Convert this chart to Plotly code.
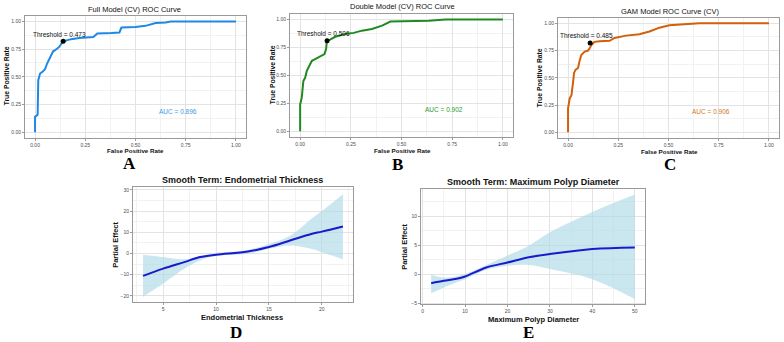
import plotly.graph_objects as go

W, H = 784, 342

# ---------------- data ----------------
roc_a_fpr = [0.0, 0.0, 0.008, 0.013, 0.016, 0.02, 0.025, 0.04, 0.05, 0.06, 0.07, 0.08, 0.09, 0.10, 0.12, 0.14,
             0.16, 0.18, 0.22, 0.25, 0.29, 0.31, 0.35, 0.38, 0.42, 0.43, 0.50, 0.55, 0.60, 0.65, 0.675, 1.0]
roc_a_tpr = [0.0, 0.14, 0.15, 0.16, 0.47, 0.50, 0.53, 0.55, 0.57, 0.62, 0.66, 0.69, 0.73, 0.74, 0.77, 0.82,
             0.83, 0.84, 0.85, 0.854, 0.86, 0.89, 0.89, 0.895, 0.90, 0.945, 0.95, 0.96, 0.985, 0.99, 1.0, 1.0]

roc_b_fpr = [0.0, 0.0, 0.008, 0.016, 0.025, 0.033, 0.041, 0.058, 0.074, 0.107, 0.12, 0.128, 0.132, 0.148, 0.173,
             0.222, 0.264, 0.305, 0.354, 0.404, 0.437, 0.445, 0.634, 0.717, 1.0]
roc_b_tpr = [0.0, 0.24, 0.30, 0.45, 0.48, 0.54, 0.57, 0.63, 0.645, 0.675, 0.69, 0.735, 0.81, 0.82, 0.845,
             0.87, 0.88, 0.90, 0.915, 0.945, 0.973, 0.982, 0.988, 1.0, 1.0]

roc_c_fpr = [0.0, 0.0, 0.008, 0.017, 0.025, 0.03, 0.038, 0.05, 0.058, 0.066, 0.083, 0.10, 0.107, 0.116, 0.132,
             0.157, 0.207, 0.231, 0.289, 0.355, 0.405, 0.455, 0.504, 0.653, 1.0]
roc_c_tpr = [0.0, 0.22, 0.31, 0.34, 0.46, 0.545, 0.575, 0.59, 0.66, 0.71, 0.74, 0.75, 0.77, 0.80, 0.83,
             0.836, 0.84, 0.866, 0.887, 0.90, 0.925, 0.96, 0.982, 1.0, 1.0]

thr_points = {"A": (0.14, 0.82, "0.473"), "B": (0.133, 0.81, "0.506"), "C": (0.11, 0.82, "0.485")}
auc_values = {"A": "0.896", "B": "0.902", "C": "0.906"}

roc_titles = ["Full Model (CV) ROC Curve", "Double Model (CV) ROC Curve", "GAM Model ROC Curve (CV)"]
roc_ticks = [0.0, 0.25, 0.5, 0.75, 1.0]
roc_ticktext = ["0.00", "0.25", "0.50", "0.75", "1.00"]

d_x = [3.1, 5, 7, 8.5, 10, 13, 15, 17, 19, 20, 22]
d_fit = [-10.6, -7.2, -4.1, -1.7, -0.6, 0.9, 3.0, 6.1, 9.2, 10.3, 12.7]
d_upper = [-0.6, -1.7, -2.8, -1.2, 0.2, 1.6, 4.5, 8.4, 16.3, 20.0, 28.0]
d_lower = [-20.5, -14.2, -7.2, -3.3, -1.25, -0.15, 2.2, 3.75, 2.2, 0.6, -2.8]

e_x = [2, 5, 8, 10, 15, 20, 25, 30, 40, 50]
e_fit = [-1.56, -1.15, -0.8, -0.4, 1.15, 2.0, 2.9, 3.46, 4.33, 4.6]
e_upper = [-0.1, -0.6, -0.35, 0.0, 1.56, 3.2, 4.9, 7.2, 10.7, 13.7]
e_lower = [-3.3, -2.3, -1.4, -0.87, 0.75, 1.44, 1.56, 0.87, -0.87, -4.3]

# ---------------- styling ----------------
SANS = "Liberation Sans, Arial, sans-serif"
SERIF = "Liberation Serif, Times New Roman, serif"
roc_colors = ["#1E88E5", "#1F8A1F", "#D2600A"]
auc_colors = ["#3B9BE0", "#2E9A2E", "#D07A1C"]
MAJ = "#E3E3E3"
MIN = "#F2F2F2"
BORDER = "#9A9A9A"

def dom_x(a, b):
    return [a / W, b / W]

def dom_y(top, bottom):
    return [1 - bottom / H, 1 - top / H]

fig = go.Figure()

boxes = {
    1: (25, 246, 15, 138),
    2: (290, 513, 13, 137),
    3: (558, 779, 17, 138),
    4: (133, 353, 188, 304),
    5: (421, 645, 190, 306),
}

def axname(i, kind):
    return f"{kind}axis" if i == 1 else f"{kind}axis{i}"

def axref(i, kind):
    return kind if i == 1 else f"{kind}{i}"

layout_axes = {}
for i, (x0, x1, y0, y1) in boxes.items():
    common = dict(showline=True, linecolor=BORDER, linewidth=1, mirror=True,
                  ticks="outside", ticklen=2, tickcolor=BORDER, tickwidth=0.8,
                  tickfont=dict(family=SANS, size=5, color="#4D4D4D"),
                  showgrid=True, gridcolor=MAJ, gridwidth=0.8, zeroline=False)
    layout_axes[axname(i, "x")] = dict(domain=dom_x(x0, x1), anchor=axref(i, "y"), **common)
    layout_axes[axname(i, "y")] = dict(domain=dom_y(y0, y1), anchor=axref(i, "x"), **common)

for i in (1, 2, 3):
    layout_axes[axname(i, "x")].update(range=[-0.05, 1.05], tickvals=roc_ticks, ticktext=roc_ticktext,
                                       minor=dict(tickvals=[0.125, 0.375, 0.625, 0.875], showgrid=True,
                                                  gridcolor=MIN, ticklen=0))
    layout_axes[axname(i, "y")].update(range=[-0.05, 1.05], tickvals=roc_ticks, ticktext=roc_ticktext,
                                       minor=dict(tickvals=[0.125, 0.375, 0.625, 0.875], showgrid=True,
                                                  gridcolor=MIN, ticklen=0))

layout_axes["xaxis4"].update(range=[2.15, 22.95], tickvals=[5, 10, 15, 20],
                             minor=dict(tickvals=[2.5, 7.5, 12.5, 17.5, 22.5], showgrid=True, gridcolor=MIN, ticklen=0))
layout_axes["yaxis4"].update(range=[-23.1, 31.2], tickvals=[-20, -10, 0, 10, 20, 30],
                             minor=dict(tickvals=[-15, -5, 5, 15, 25], showgrid=True, gridcolor=MIN, ticklen=0))
layout_axes["xaxis5"].update(range=[-0.4, 52.4], tickvals=[0, 10, 20, 30, 40, 50],
                             minor=dict(tickvals=[5, 15, 25, 35, 45], showgrid=True, gridcolor=MIN, ticklen=0))
layout_axes["yaxis5"].update(range=[-5.2, 14.6], tickvals=[-5, 0, 5, 10],
                             minor=dict(tickvals=[-2.5, 2.5, 7.5, 12.5], showgrid=True, gridcolor=MIN, ticklen=0))

# ROC traces
rocs = [(roc_a_fpr, roc_a_tpr, "A"), (roc_b_fpr, roc_b_tpr, "B"), (roc_c_fpr, roc_c_tpr, "C")]
annotations = []
for k, (fx, ty, key) in enumerate(rocs):
    i = k + 1
    xa, ya = axref(i, "x"), axref(i, "y")
    fig.add_trace(go.Scatter(x=fx, y=ty, mode="lines", line=dict(color=roc_colors[k], width=2),
                             xaxis=xa, yaxis=ya, showlegend=False, hoverinfo="skip"))
    px_, py_, thr = thr_points[key]
    fig.add_trace(go.Scatter(x=[px_], y=[py_], mode="markers", marker=dict(color="black", size=5),
                             xaxis=xa, yaxis=ya, showlegend=False, hoverinfo="skip"))
    annotations.append(dict(x=px_ - 0.02, y=py_ + 0.065, xref=xa, yref=ya, text=f"Threshold = {thr}",
                            showarrow=False, font=dict(family=SANS, size=6.5, color="#111111"),
                            xanchor="center", yanchor="middle"))
    annotations.append(dict(x=0.71, y=0.19, xref=xa, yref=ya, text=f"AUC = {auc_values[key]}",
                            showarrow=False, font=dict(family=SANS, size=6.5, color=auc_colors[k]),
                            xanchor="center", yanchor="middle"))

# Smooth terms
for i, (xs, fit, up, lo) in ((4, (d_x, d_fit, d_upper, d_lower)), (5, (e_x, e_fit, e_upper, e_lower))):
    xa, ya = axref(i, "x"), axref(i, "y")
    fig.add_trace(go.Scatter(x=xs, y=lo, mode="lines", line=dict(width=0, shape="spline"),
                             xaxis=xa, yaxis=ya, showlegend=False, hoverinfo="skip"))
    fig.add_trace(go.Scatter(x=xs, y=up, mode="lines", line=dict(width=0, shape="spline"),
                             fill="tonexty", fillcolor="rgba(173,216,230,0.65)",
                             xaxis=xa, yaxis=ya, showlegend=False, hoverinfo="skip"))
    fig.add_trace(go.Scatter(x=xs, y=fit, mode="lines", line=dict(color="#1A1ACD", width=2, shape="spline"),
                             xaxis=xa, yaxis=ya, showlegend=False, hoverinfo="skip"))

def pa(text, x, y, size, bold=False, family=SANS, angle=0, color="#111111"):
    t = f"<b>{text}</b>" if bold else text
    annotations.append(dict(x=x / W, y=1 - y / H, xref="paper", yref="paper", text=t, showarrow=False,
                            font=dict(family=family, size=size, color=color), textangle=angle,
                            xanchor="center", yanchor="middle"))

# ROC titles
pa(roc_titles[0], 134, 9, 7.5)
pa(roc_titles[1], 402, 6, 7.5)
pa(roc_titles[2], 670, 11, 7.5)
# ROC axis titles
for cx, cy in ((135, 151), (402, 151), (669, 152)):
    pa("False Positive Rate", cx, cy, 6.2, bold=True)
for cx, cy in ((6, 76), (272, 75), (539, 78)):
    pa("True Positive Rate", cx, cy, 6.8, bold=True, angle=-90)

# Smooth titles
pa("Smooth Term: Endometrial Thickness", 242, 181, 9, bold=True)
pa("Smooth Term: Maximum Polyp Diameter", 533, 183, 9, bold=True)
pa("Endometrial Thickness", 242, 319, 7.5, bold=True)
pa("Maximum Polyp Diameter", 533, 321, 7.5, bold=True)
pa("Partial Effect", 116, 246, 7.5, bold=True, angle=-90)
pa("Partial Effect", 405, 248, 7.5, bold=True, angle=-90)

# Panel letters
for letter, cx, cy in (("A", 129, 164), ("B", 397, 165), ("C", 670, 165), ("D", 236, 334), ("E", 528, 334)):
    pa(letter, cx, cy, 17, bold=True, family=SERIF, color="#000000")

fig.update_layout(width=W, height=H, autosize=False, margin=dict(l=0, r=0, t=0, b=0),
                  paper_bgcolor="white", plot_bgcolor="white", showlegend=False,
                  annotations=annotations, **layout_axes)

fig.write_html("out.html")
